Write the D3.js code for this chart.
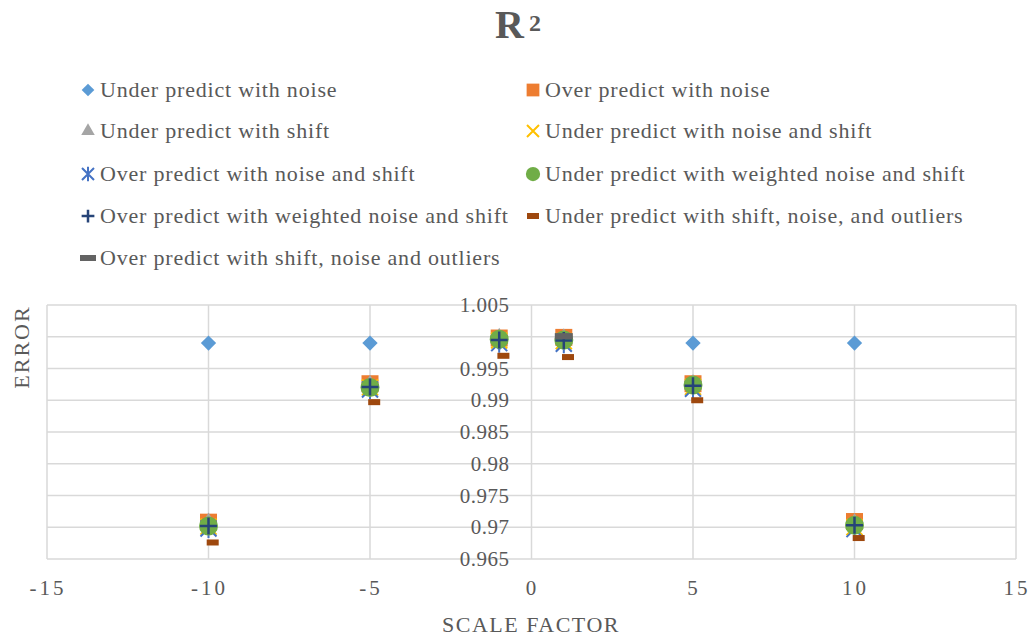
<!DOCTYPE html>
<html>
<head>
<meta charset="utf-8">
<script src="https://cdn.jsdelivr.net/npm/d3@7"></script>
<style>
  body { margin: 0; background: #fff; }
  text { font-family: "Liberation Serif", "Times New Roman", serif; fill: #595959; }
</style>
</head>
<body>
<svg id="chart" width="1032" height="640"></svg>
<script>
/*** DATA ***/
const xTicks = [-15, -10, -5, 0, 5, 10, 15];
const yTicks = [0.965, 0.97, 0.975, 0.98, 0.985, 0.99, 0.995, 1, 1.005];
const yTickLabels = ["0.965", "0.97", "0.975", "0.98", "0.985", "0.99", "0.995", "1", "1.005"];

const scaleFactors = [-10, -5, -1, 1, 5, 10];
const outlierX = [-9.87, -4.87, -0.87, 1.13, 5.13, 10.13];

const underNoise = [0.999, 0.999, 0.999, 0.999, 0.999, 0.999];
const overNoise = [0.9708, 0.9926, 0.9998, 0.9999, 0.9926, 0.9709];
const underShift = [0.9707, 0.9924, 0.9998, 0.9997, 0.9925, 0.9706];
const underNoiseShift = [0.9701, 0.9920, 0.9994, 0.9993, 0.9921, 0.9700];
const overNoiseShift = [0.9698, 0.9917, 0.9990, 0.9989, 0.9918, 0.9697];
const underWeighted = [0.9702, 0.9920, 0.9996, 0.9995, 0.9924, 0.9703];
const overWeighted = [0.9702, 0.9921, 0.9995, 0.9994, 0.9923, 0.9703];
const underOutliers = [0.9676, 0.9897, 0.9970, 0.9968, 0.9900, 0.9683];
const overOutliersX = [1];
const overOutliers = [1.0001];

const series = [
  {name: "Under predict with noise", xs: scaleFactors, ys: underNoise, shape: "diamond", color: "#5B9BD5"},
  {name: "Over predict with noise", xs: scaleFactors, ys: overNoise, shape: "square", color: "#ED7D31"},
  {name: "Under predict with shift", xs: scaleFactors, ys: underShift, shape: "triangle", color: "#A5A5A5"},
  {name: "Under predict with noise and shift", xs: scaleFactors, ys: underNoiseShift, shape: "x", color: "#FFC000"},
  {name: "Over predict with noise and shift", xs: scaleFactors, ys: overNoiseShift, shape: "star", color: "#4472C4"},
  {name: "Under predict with weighted noise and shift", xs: scaleFactors, ys: underWeighted, shape: "circle", color: "#70AD47"},
  {name: "Over predict with weighted noise and shift", xs: scaleFactors, ys: overWeighted, shape: "plus", color: "#264478"},
  {name: "Under predict with shift, noise, and outliers", xs: outlierX, ys: underOutliers, shape: "dash", color: "#9E480E"},
  {name: "Over predict with shift, noise and outliers", xs: overOutliersX, ys: overOutliers, shape: "bigdash", color: "#636363"}
];

/*** LAYOUT ***/
const svg = d3.select("#chart");
const plot = {left: 47, right: 1016, top: 305, bottom: 559};

const x = d3.scaleLinear().domain([-15, 15]).range([plot.left, plot.right]);
const y = d3.scaleLinear().domain([0.965, 1.005]).range([plot.bottom, plot.top]);

// draw a marker of a given shape centred on 0,0 inside g
function drawMarker(g, shape, color, big) {
  const s = big ? 1 : 0.75;
  if (shape == "diamond") {
    g.append("path").attr("d", d3.symbol(d3.symbolDiamond2, (big ? 150 : 180) * s * s)()).attr("fill", color);
  } else if (shape == "square") {
    const w = 17 * s;
    g.append("rect").attr("x", -w/2).attr("y", -w/2).attr("width", w).attr("height", w).attr("fill", color);
  } else if (shape == "triangle") {
    g.append("path").attr("d", d3.symbol(d3.symbolTriangle, 140 * s * s)()).attr("fill", color);
  } else if (shape == "circle") {
    g.append("circle").attr("r", 9.5 * s).attr("fill", color);
  } else if (shape == "x") {
    const r = 8 * s;
    g.append("path").attr("d", `M${-r},${-r}L${r},${r}M${-r},${r}L${r},${-r}`)
      .attr("stroke", color).attr("stroke-width", 2);
  } else if (shape == "star") {
    const r = 8 * s;
    g.append("path").attr("d", `M${-r},${-r}L${r},${r}M${-r},${r}L${r},${-r}M0,${-r*1.2}L0,${r*1.2}`)
      .attr("stroke", color).attr("stroke-width", 2);
  } else if (shape == "plus") {
    const r = 8.5 * s;
    g.append("path").attr("d", `M${-r},0L${r},0M0,${-r}L0,${r}`)
      .attr("stroke", color).attr("stroke-width", 2.5);
  } else if (shape == "dash") {
    g.append("rect").attr("x", -6).attr("y", -3).attr("width", 12).attr("height", 6).attr("fill", color);
  } else if (shape == "bigdash") {
    g.append("rect").attr("x", big ? -9 : -8).attr("y", -3).attr("width", big ? 18 : 16).attr("height", 6).attr("fill", color);
  }
}

/*** GRID ***/
svg.append("g").selectAll("line.h")
  .data(yTicks)
  .enter().append("line")
    .attr("x1", plot.left).attr("x2", plot.right)
    .attr("y1", d => y(d)).attr("y2", d => y(d))
    .attr("stroke", "#D9D9D9").attr("stroke-width", 1.5);

svg.append("g").selectAll("line.v")
  .data(xTicks)
  .enter().append("line")
    .attr("x1", d => x(d)).attr("x2", d => x(d))
    .attr("y1", plot.top).attr("y2", plot.bottom)
    .attr("stroke", "#D9D9D9").attr("stroke-width", 1.5);

/*** AXIS LABELS ***/
// y labels sit left of the x = 0 crossing
svg.append("g").selectAll("text")
  .data(yTicks)
  .enter().append("text")
    .attr("x", x(0) - 22)
    .attr("y", d => y(d) + 7)
    .attr("text-anchor", "end")
    .attr("font-size", 21)
    .attr("letter-spacing", 0.5)
    .text((d, i) => yTickLabels[i]);

svg.append("g").selectAll("text")
  .data(xTicks)
  .enter().append("text")
    .attr("x", d => x(d) + 1)
    .attr("y", 595)
    .attr("text-anchor", "middle")
    .attr("font-size", 21)
    .attr("letter-spacing", 3)
    .text(d => d);

svg.append("text")
  .attr("x", 531).attr("y", 632)
  .attr("text-anchor", "middle")
  .attr("font-size", 22)
  .attr("letter-spacing", 1.5)
  .text("SCALE FACTOR");

svg.append("text")
  .attr("transform", "translate(29,347) rotate(-90)")
  .attr("text-anchor", "middle")
  .attr("font-size", 22)
  .attr("letter-spacing", 2)
  .text("ERROR");

/*** TITLE ***/
const title = svg.append("text")
  .attr("x", 518).attr("y", 38)
  .attr("text-anchor", "middle")
  .attr("font-size", 40)
  .attr("font-weight", "bold");
title.append("tspan").text("R");
title.append("tspan").attr("font-size", 24).attr("dx", 5).attr("dy", -7).text("2");

/*** POINTS ***/
series.forEach(s => {
  const g = svg.append("g");
  s.ys.forEach((v, i) => {
    const m = g.append("g").attr("transform", `translate(${x(s.xs[i])},${y(v)})`);
    drawMarker(m, s.shape, s.color, true);
  });
});

/*** LEGEND ***/
const legendCols = [88, 533];
const legendRows = [90, 131, 174, 216, 258];
series.forEach((s, i) => {
  const lx = legendCols[i % 2];
  const ly = legendRows[Math.floor(i / 2)];
  const m = svg.append("g").attr("transform", `translate(${lx},${ly})`);
  drawMarker(m, s.shape, s.color, false);
  svg.append("text")
    .attr("x", lx + 12).attr("y", ly + 7)
    .attr("font-size", 22)
    .attr("letter-spacing", 0.8)
    .text(s.name);
});
</script>
</body>
</html>
